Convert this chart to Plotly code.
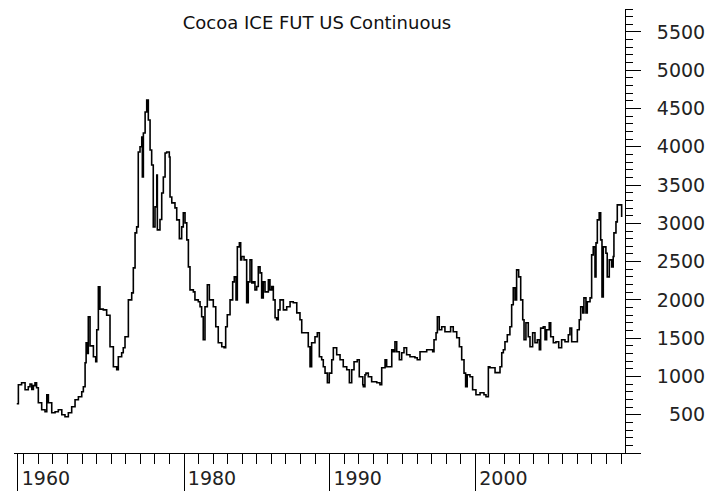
import plotly.graph_objects as go

# Cocoa ICE FUT US Continuous (decimal year, price)
years = [
    1968.52, 1968.63, 1968.85, 1969.09, 1969.31, 1969.43, 1969.55, 1969.66, 1969.77, 1969.88,
    1970.00, 1970.23, 1970.46, 1970.58, 1970.69, 1970.92, 1971.15, 1971.37, 1971.61, 1971.83,
    1972.06, 1972.29, 1972.52, 1972.75, 1972.98, 1973.09, 1973.21, 1973.28, 1973.35, 1973.43,
    1973.55, 1973.78, 1973.94, 1974.01, 1974.12, 1974.23, 1974.46, 1974.69, 1974.92, 1975.15,
    1975.38, 1975.49, 1975.72, 1975.83, 1975.95, 1976.18, 1976.41, 1976.52, 1976.64, 1976.75,
    1976.86, 1976.98, 1977.10, 1977.14, 1977.21, 1977.33, 1977.44, 1977.55, 1977.67, 1977.78,
    1977.89, 1978.01, 1978.13, 1978.17, 1978.35, 1978.47, 1978.58, 1978.70, 1978.81, 1978.99,
    1979.04, 1979.16, 1979.38, 1979.50, 1979.68, 1979.84, 1979.95, 1980.07, 1980.19, 1980.30,
    1980.41, 1980.64, 1980.75, 1980.98, 1981.10, 1981.21, 1981.32, 1981.44, 1981.60, 1981.74,
    1981.90, 1982.01, 1982.18, 1982.35, 1982.59, 1982.75, 1982.86, 1982.97, 1983.16, 1983.34,
    1983.45, 1983.57, 1983.66, 1983.80, 1983.89, 1983.96, 1984.12, 1984.30, 1984.41, 1984.53,
    1984.65, 1984.76, 1984.87, 1984.99, 1985.10, 1985.22, 1985.33, 1985.44, 1985.56, 1985.79,
    1985.90, 1986.02, 1986.13, 1986.25, 1986.36, 1986.47, 1986.59, 1986.82, 1987.05, 1987.28,
    1987.50, 1987.74, 1987.96, 1988.08, 1988.30, 1988.53, 1988.65, 1988.76, 1988.99, 1989.15,
    1989.29, 1989.45, 1989.56, 1989.68, 1989.84, 1989.97, 1990.14, 1990.25, 1990.48, 1990.71,
    1990.93, 1991.17, 1991.35, 1991.51, 1991.67, 1991.89, 1992.03, 1992.27, 1992.31, 1992.42,
    1992.49, 1992.65, 1992.88, 1993.23, 1993.45, 1993.57, 1993.80, 1993.91, 1994.14, 1994.26,
    1994.37, 1994.48, 1994.60, 1994.78, 1994.94, 1995.10, 1995.28, 1995.51, 1995.85, 1996.01,
    1996.20, 1996.42, 1996.66, 1996.88, 1997.07, 1997.16, 1997.30, 1997.39, 1997.52, 1997.69,
    1997.91, 1998.14, 1998.30, 1998.48, 1998.72, 1998.90, 1999.06, 1999.22, 1999.33, 1999.44,
    1999.63, 1999.81, 2000.04, 2000.32, 2000.59, 2000.73, 2000.89, 2001.00, 2001.35, 2001.69,
    2001.81, 2001.92, 2002.03, 2002.19, 2002.37, 2002.49, 2002.60, 2002.72, 2002.83, 2002.97,
    2003.11, 2003.25, 2003.34, 2003.47, 2003.63, 2003.75, 2003.93, 2004.09, 2004.25, 2004.39,
    2004.48, 2004.66, 2004.78, 2004.89, 2005.07, 2005.17, 2005.35, 2005.53, 2005.72, 2005.92,
    2006.15, 2006.38, 2006.49, 2006.61, 2006.84, 2007.00, 2007.13, 2007.23, 2007.37, 2007.45,
    2007.59, 2007.68, 2007.87, 2007.98, 2008.09, 2008.21, 2008.28, 2008.37, 2008.50, 2008.60,
    2008.69, 2008.78, 2008.96, 2009.05, 2009.19, 2009.35, 2009.46, 2009.51, 2009.65, 2009.74,
    2009.92, 2010.04,
]
prices = [
    643, 892, 918, 826, 866, 900, 830, 880, 918, 852,
    657, 565, 539, 761, 657, 526, 539, 565, 500, 474,
    526, 604, 696, 735, 800, 866, 1179, 1440, 1300, 1778,
    1400, 1257, 1192, 1610, 2170, 1880, 1870, 1800, 1388, 1127,
    1087, 1257, 1309, 1374, 1518, 2000, 2092, 2418, 2875, 2954,
    3932, 4000, 4128, 3605, 4180, 4455, 4611, 4350, 3958, 3762,
    2954, 3215, 3632, 2915, 3050, 3397, 3605, 3919, 3932, 3867,
    3345, 3267, 3202, 3045, 2800, 2954, 3137, 3006, 2784, 2431,
    2131, 2105, 2000, 1975, 1910, 1779, 1479, 1910, 2197, 2000,
    2000, 1910, 1649, 1440, 1388, 1375, 1649, 1805, 2000, 2236,
    2301, 2000, 2693, 2745, 2523, 2566, 2523, 1962, 2236, 2523,
    2223, 2236, 2131, 2175, 2431, 2353, 2027, 2236, 2105, 2262,
    2131, 2175, 2000, 1766, 1740, 1870, 2000, 1870, 1910, 1975,
    1962, 1831, 1740, 1570, 1570, 1388, 1127, 1440, 1518, 1570,
    1257, 1218, 1127, 1044, 918, 1044, 1218, 1375, 1284, 1218,
    1127, 1087, 918, 1087, 1192, 1218, 996, 892, 866, 1022,
    1044, 996, 931, 918, 892, 1113, 1218, 1127, 1127, 1348,
    1322, 1453, 1322, 1218, 1309, 1375, 1284, 1257, 1244, 1218,
    1322, 1322, 1348, 1348, 1322, 1479, 1570, 1779, 1610, 1649,
    1584, 1584, 1649, 1584, 1505, 1388, 1218, 1044, 866, 1022,
    996, 826, 761, 787, 761, 735, 1127, 1113, 1050, 1127,
    1309, 1348, 1453, 1544, 1649, 1936, 2157, 2000, 2392, 2301,
    2000, 1740, 1479, 1701, 1518, 1388, 1570, 1440, 1479, 1348,
    1631, 1649, 1479, 1610, 1701, 1518, 1440, 1453, 1375, 1479,
    1453, 1544, 1631, 1453, 1453, 1610, 1740, 1910, 1831, 2027,
    1831, 1975, 2027, 2588, 2693, 2301, 2745, 3045, 3137, 2784,
    2040, 2693, 2610, 2301, 2523, 2431, 2566, 2875, 3019, 3241,
    3241, 3084,
]

title_text = "Cocoa ICE FUT US Continuous"

x_tick_vals = [1968.6, 1970, 1980, 1990, 2000, 2010]
x_tick_text = ["1960", "", "1980", "1990", "2000", ""]
x_minor_vals = list(range(1969, 2011))

y_tick_vals = [0, 500, 1000, 1500, 2000, 2500, 3000, 3500, 4000, 4500, 5000, 5500]
y_tick_text = ["", "\u2007500", "1000", "1500", "2000", "2500", "3000",
               "3500", "4000", "4500", "5000", "5500"]

FONT = "DejaVu Sans"

fig = go.Figure()
fig.add_trace(go.Scatter(
    x=years, y=prices, mode="lines",
    line=dict(color="#000000", width=1.6, shape="hv"),
    showlegend=False, hoverinfo="skip",
))

fig.update_layout(
    width=721, height=491,
    margin=dict(l=14, r=96, t=9, b=38, autoexpand=False),
    paper_bgcolor="white", plot_bgcolor="white",
    title=dict(text=title_text, x=317 / 721, xanchor="center",
               y=1 - 23 / 491, yanchor="middle",
               font=dict(family=FONT, size=18, color="#111111")),
    xaxis=dict(
        range=[1968.33, 2010.27],
        showgrid=False, zeroline=False, automargin=False,
        showline=True, linecolor="#000000", linewidth=1,
        tickmode="array", tickvals=x_tick_vals, ticktext=x_tick_text,
        ticks="outside", ticklen=38, tickwidth=1, tickcolor="#000000",
        ticklabelshift=28, ticklabelstandoff=-30, ticklabeloverflow="allow",
        tickfont=dict(family=FONT, size=19, color="#222222"),
        minor=dict(tickmode="array", tickvals=x_minor_vals, ticks="outside",
                   ticklen=10, tickwidth=1, tickcolor="#000000", showgrid=False),
    ),
    yaxis=dict(
        range=[0, 5800], side="right",
        showgrid=False, zeroline=False, automargin=False,
        showline=True, linecolor="#000000", linewidth=1,
        tickmode="array", tickvals=y_tick_vals, ticktext=y_tick_text,
        ticks="outside", ticklen=15, tickwidth=1, tickcolor="#000000",
        ticklabelstandoff=12,
        tickfont=dict(family=FONT, size=19, color="#222222"),
        minor=dict(tickmode="linear", tick0=0, dtick=100, ticks="outside",
                   ticklen=7, tickwidth=1, tickcolor="#000000", showgrid=False),
    ),
)

fig.write_html("out.html", config={"displayModeBar": False},
               post_script="document.body.style.margin='0';")
